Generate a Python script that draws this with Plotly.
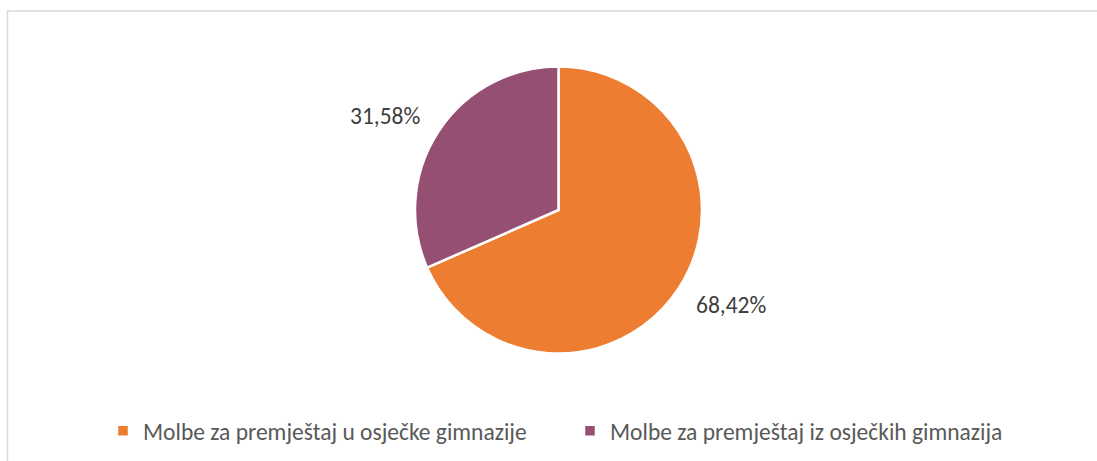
import math
import plotly.graph_objects as go

labels = ["Molbe za premještaj u osječke gimnazije", "Molbe za premještaj iz osječkih gimnazija"]
values = [68.42, 31.58]
colors = ["#ED7D31", "#954F72"]

W, H = 1097, 461
cx, cy, r = 558.5, 210, 143.5
label_gap = 18
FS = 23.5
FONT = "Carlito, Lato, sans-serif"

fig = go.Figure(go.Pie(
    labels=labels,
    values=values,
    sort=False,
    direction="clockwise",
    rotation=0,
    marker=dict(colors=colors, line=dict(color="white", width=2.5)),
    textinfo="none",
    hoverinfo="label+percent",
    domain=dict(x=[(cx - r) / W, (cx + r) / W], y=[(H - cy - r) / H, (H - cy + r) / H]),
))

# data labels placed outside each slice, along its mid-angle (computed from values)
total = sum(values)
cum = 0.0
annotations = []
for v in values:
    mid = (cum + v / 2) / total * 2 * math.pi
    cum += v
    dx = math.sin(mid)
    dy = math.cos(mid)  # upwards positive
    rr = r + label_gap
    px = cx + dx * rr
    py = cy - dy * rr
    annotations.append(dict(
        x=px / W, y=(H - py) / H, xref="paper", yref="paper",
        text=f"{v / total * 100:.2f}%".replace(".", ","),
        showarrow=False,
        xanchor="left" if dx >= 0 else "right",
        yanchor="bottom" if dy >= 0 else "top",
        yshift=-10 if dy >= 0 else 9,
        font=dict(size=FS, color="#404040", family=FONT),
    ))

fig.update_layout(
    width=W, height=H,
    margin=dict(l=0, r=0, t=0, b=0),
    paper_bgcolor="white",
    font=dict(family=FONT, color="#595959", size=FS),
    showlegend=True,
    legend=dict(orientation="h", x=(121 - 18) / W, xanchor="left", y=(H - 431) / H, yanchor="middle",
                font=dict(size=FS, color="#595959", family=FONT), itemwidth=30,
                entrywidth=422, entrywidthmode="pixels",
                traceorder="normal"),
    annotations=annotations,
    shapes=[dict(type="rect", xref="paper", yref="paper",
                 x0=7.5 / W, x1=1.01, y0=-0.05, y1=1 - 11 / H,
                 line=dict(color="#D9D9D9", width=1.5), fillcolor="rgba(0,0,0,0)")],
)

fig.write_html("out.html", config={"displayModeBar": False},
               post_script="document.body.style.margin='0';document.body.style.overflow='hidden';")
